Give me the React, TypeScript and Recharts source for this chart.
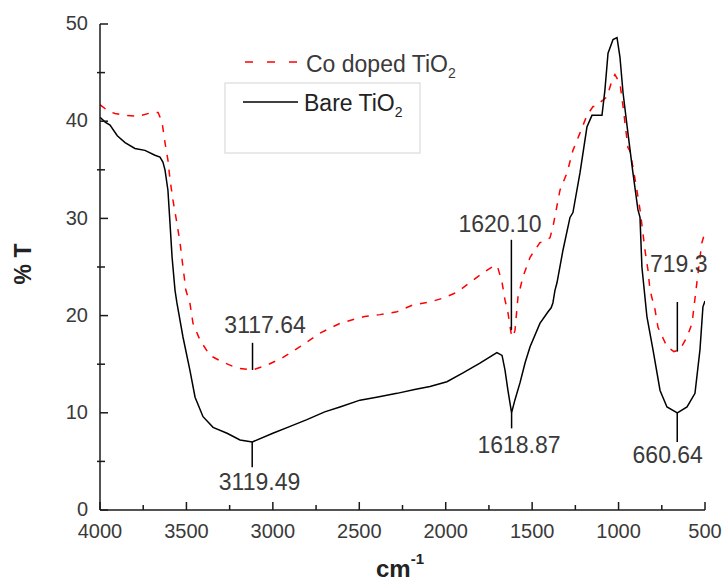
import React from "react";
import {
  LineChart,
  Line,
  XAxis,
  YAxis,
  ReferenceLine,
  ReferenceDot,
  Customized,
} from "recharts";

// wavenumber (cm-1) and %T
const bareWn = [
  4000, 3970, 3942, 3900, 3855, 3798, 3740, 3682, 3653, 3636, 3624, 3607, 3595, 3583,
  3566, 3555, 3520, 3480, 3450, 3404, 3346, 3265, 3190, 3119, 3000, 2900, 2803, 2700,
  2612, 2496, 2400, 2282, 2180, 2091, 1993, 1900, 1802, 1704, 1674, 1657, 1640, 1619,
  1600, 1570, 1540, 1512, 1455, 1408, 1390, 1380, 1368, 1356, 1322, 1281, 1264, 1223,
  1183, 1154, 1096, 1079, 1061, 1032, 1009, 992, 974, 946, 917, 888, 876, 865, 836,
  801, 760, 720, 660, 604, 558, 529, 512, 500,
];
const bareT = [
  40.4, 39.9, 39.6, 38.5, 37.8, 37.2, 37.0, 36.5, 36.3, 35.8, 35.0, 32.9, 29.5, 26.0,
  22.6, 21.3, 17.8, 14.4, 11.6, 9.6, 8.5, 7.9, 7.2, 7.0, 7.9, 8.6, 9.3, 10.1,
  10.6, 11.3, 11.6, 12.0, 12.4, 12.7, 13.2, 14.1, 15.1, 16.2, 15.9, 14.4, 12.3, 10.0,
  11.3, 13.1, 15.2, 16.8, 19.2, 20.4, 20.8, 21.3, 22.6, 23.4, 26.7, 30.1, 30.6, 34.7,
  39.4, 40.6, 40.6, 43.2, 47.0, 48.4, 48.6, 46.6, 42.9, 38.8, 34.7, 30.9, 30.1, 25.0, 19.9,
  16.5, 12.3, 10.6, 10.0, 10.6, 12.0, 16.5, 20.9, 21.5,
];

const coWn = [
  4000, 3950, 3913, 3850, 3780, 3699, 3664, 3641, 3624, 3607, 3595, 3578, 3555, 3537,
  3520, 3503, 3480, 3462, 3422, 3364, 3288, 3207, 3118, 3034, 2941, 2843, 2727, 2612,
  2554, 2470, 2380, 2282, 2189, 2091, 2016, 1935, 1860, 1784, 1715, 1698, 1674, 1657,
  1640, 1620, 1611, 1599, 1582, 1553, 1512, 1455, 1414, 1397, 1380, 1339, 1298, 1264,
  1223, 1183, 1148, 1137, 1067, 1038, 1021, 992, 974, 946, 936, 917, 894, 876, 859,
  847, 830, 818, 789, 772, 720, 680, 645, 604, 575, 547, 518, 500,
];
const coT = [
  41.7, 41.0, 40.8, 40.6, 40.5, 40.9, 40.9, 39.9, 37.8, 36.0, 34.0, 31.9, 29.5, 27.5,
  25.0, 22.6, 21.3, 19.2, 17.5, 15.9, 15.2, 14.6, 14.4, 14.9, 15.7, 16.8, 18.2, 19.2,
  19.5, 19.9, 20.1, 20.4, 21.1, 21.4, 21.8, 22.4, 23.4, 24.4, 25.2, 24.9, 23.4, 21.6,
  20.3, 18.0, 17.8, 18.5, 21.9, 24.0, 26.0, 27.5, 27.8, 28.0, 29.1, 32.9, 34.7, 37.0,
  38.8, 40.6, 41.5, 41.5, 42.5, 44.2, 44.8, 43.9, 41.5, 37.3, 37.0, 35.3, 32.9, 30.9, 28.5,
  26.7, 24.7, 22.6, 20.6, 18.8, 16.8, 16.3, 16.5, 17.8, 19.2, 23.4, 27.5, 28.6,
];

const xTicks = [4000, 3750, 3500, 3250, 3000, 2750, 2500, 2250, 2000, 1750, 1500, 1250, 1000, 750, 500];
const yTicks = [0, 5, 10, 15, 20, 25, 30, 35, 40, 45, 50];

// peak annotations: label, marker x, marker span
const peakLabels = ["3117.64", "3119.49", "1620.10", "1618.87", "719.3", "660.64"];
const peakWn = [3117.64, 3119.49, 1620.1, 1618.87, 660, 660.64];
const peakFrom = [14.4, 7.0, 18.5, 10.0, 16.3, 10.0];
const peakTo = [17.2, 4.4, 27.8, 8.4, 21.4, 7.0];

// where each peak label text sits (data coords) and its anchor
const labelWn = [3045, 3077, 1686, 1576, 818, 512];
const labelT = [18.2, 2.06, 28.6, 5.86, 24.5, 4.8];
const labelAnchor = ["middle", "middle", "middle", "middle", "start", "end"];

const bareData = bareWn.map((wn, i) => ({ wn, t: bareT[i] }));
const coData = coWn.map((wn, i) => ({ wn, t: coT[i] }));

const AXIS = "#1a1a1a";
const TEXT = "#3a3a3a";
const FONT = "'Liberation Sans', Arial, sans-serif";

const BottomTick = ({ x, y, payload }: any) => {
  const major = payload.value % 500 === 0;
  return (
    <g>
      <line x1={x} x2={x} y1={y} y2={y - (major ? 8 : 5)} stroke={AXIS} strokeWidth={1.5} />
      {major && (
        <text x={x} y={y + 28} textAnchor="middle" fontSize={20} fill={TEXT} fontFamily={FONT}>
          {payload.value}
        </text>
      )}
    </g>
  );
};

const TopTick = ({ x, y, payload }: any) => {
  const major = payload.value % 500 === 0;
  return <line x1={x} x2={x} y1={y} y2={y + (major ? 8 : 5)} stroke={AXIS} strokeWidth={1.5} />;
};

const LeftTick = ({ x, y, payload }: any) => {
  const major = payload.value % 10 === 0;
  return (
    <g>
      <line x1={x - (major ? 0 : 3)} x2={x + (major ? 8 : 5)} y1={y} y2={y} stroke={AXIS} strokeWidth={1.5} />
      {major && (
        <text x={x - 12} y={y - 1} dy="0.36em" textAnchor="end" fontSize={20} fill={TEXT} fontFamily={FONT}>
          {payload.value}
        </text>
      )}
    </g>
  );
};

const RightTick = ({ x, y, payload }: any) => {
  const major = payload.value % 10 === 0;
  return <line x1={x} x2={x - (major ? 8 : 5)} y1={y} y2={y} stroke={AXIS} strokeWidth={1.5} />;
};

const Overlay = () => (
  <g fontFamily={FONT}>
    {/* legend */}
    <line x1={245} x2={297} y1={62} y2={62} stroke="#ff0000" strokeWidth={1.5} strokeDasharray="8 14" />
    <text x={306} y={72} fontSize={23} fill={TEXT}>
      Co doped TiO<tspan dy={6} fontSize={14}>2</tspan>
    </text>
    <rect x={225} y={83} width={195} height={70} fill="#fff" stroke="#d4d4d4" strokeWidth={1} />
    <line x1={243} x2={298} y1={102} y2={102} stroke="#000" strokeWidth={1.5} />
    <text x={304} y={111} fontSize={23} fill="#222">
      Bare TiO<tspan dy={6} fontSize={14}>2</tspan>
    </text>
    {/* axis titles */}
    <text x={31} y={264} fontSize={23} fontWeight="bold" fill="#222" textAnchor="middle" transform="rotate(-90 31 264)">
      % T
    </text>
    <text x={376} y={577} fontSize={24} fontWeight="bold" fill="#222">
      cm<tspan dy={-13} fontSize={15}>-1</tspan>
    </text>
  </g>
);

export default function App() {
  return (
    <div style={{ position: "absolute", left: 0, top: 0, width: 725, height: 581, background: "#fff" }}>
      <LineChart width={725} height={581} margin={{ top: 24, right: 20, bottom: 31, left: 30 }}>
        <XAxis
          dataKey="wn"
          type="number"
          domain={[500, 4000]}
          reversed
          ticks={xTicks}
          interval={0}
          height={40}
          tickSize={0}
          tickMargin={0}
          tickLine={false}
          tick={<BottomTick />}
          axisLine={{ stroke: AXIS, strokeWidth: 1.5 }}
          allowDataOverflow
        />
        <XAxis
          xAxisId="top"
          orientation="top"
          dataKey="wn"
          type="number"
          domain={[500, 4000]}
          reversed
          ticks={xTicks}
          interval={0}
          height={0}
          tickSize={0}
          tickMargin={0}
          tickLine={false}
          tick={<TopTick />}
          axisLine={{ stroke: AXIS, strokeWidth: 1.5 }}
        />
        <YAxis
          type="number"
          domain={[0, 50]}
          ticks={yTicks}
          interval={0}
          width={70}
          tickSize={0}
          tickMargin={0}
          tickLine={false}
          tick={<LeftTick />}
          axisLine={{ stroke: AXIS, strokeWidth: 1.5 }}
          allowDataOverflow
        />
        <YAxis
          yAxisId="right"
          orientation="right"
          type="number"
          domain={[0, 50]}
          ticks={yTicks}
          interval={0}
          width={0}
          tickSize={0}
          tickMargin={0}
          tickLine={false}
          tick={<RightTick />}
          axisLine={{ stroke: AXIS, strokeWidth: 1.5 }}
        />
        <Line
          data={coData}
          dataKey="t"
          type="linear"
          stroke="#ff0000"
          strokeWidth={1.5}
          strokeDasharray="7 8"
          dot={false}
          activeDot={false}
          isAnimationActive={false}
        />
        <Line
          data={bareData}
          dataKey="t"
          type="linear"
          stroke="#000000"
          strokeWidth={1.5}
          dot={false}
          activeDot={false}
          isAnimationActive={false}
        />
        {peakWn.map((wn, i) => (
          <ReferenceLine
            key={`pk-${i}`}
            segment={[
              { x: wn, y: peakFrom[i] },
              { x: wn, y: peakTo[i] },
            ]}
            stroke="#000"
            strokeWidth={1.5}
          />
        ))}
        {peakLabels.map((label, i) => (
          <ReferenceDot
            key={`pl-${i}`}
            x={labelWn[i]}
            y={labelT[i]}
            r={0}
            shape={(p: any) => (
              <text
                x={p.cx}
                y={p.cy}
                textAnchor={labelAnchor[i]}
                fontSize={23}
                fill={TEXT}
                fontFamily={FONT}
              >
                {label}
              </text>
            )}
          />
        ))}
        <Customized component={Overlay} />
      </LineChart>
    </div>
  );
}
